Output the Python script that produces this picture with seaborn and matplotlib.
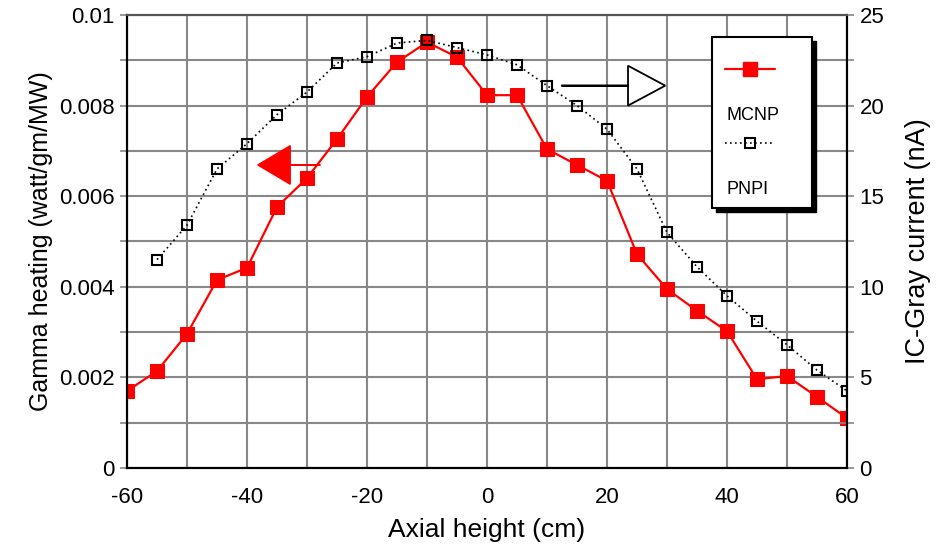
import numpy as np
import pandas as pd
import matplotlib
matplotlib.use("Agg")
import matplotlib.pyplot as plt
import seaborn as sns
from matplotlib.patches import Rectangle, FancyArrow
from matplotlib.lines import Line2D

# axial positions (cm)
height_mcnp = list(range(-60, 65, 5))
height_pnpi = list(range(-55, 65, 5))

# MCNP gamma heating (watt/gm/MW) - left axis
gamma_mcnp = [0.00170, 0.00214, 0.00296, 0.00415, 0.00442, 0.00576, 0.00640,
              0.00726, 0.00819, 0.00896, 0.00940, 0.00907, 0.00823, 0.00823,
              0.00704, 0.00669, 0.00634, 0.00472, 0.00395, 0.00347, 0.00302,
              0.00196, 0.00203, 0.00157, 0.00110]

# PNPI IC-Gray current (nA) - right axis
current_pnpi = [11.5, 13.4, 16.5, 17.9, 19.5, 20.75, 22.35, 22.7, 23.45, 23.6,
                23.2, 22.8, 22.25, 21.1, 20.0, 18.7, 16.5, 13.0, 11.1, 9.5,
                8.1, 6.8, 5.4, 4.25]

x_ticks = list(range(-60, 70, 10))
x_labels = ["-60", "", "-40", "", "-20", "", "0", "", "20", "", "40", "", "60"]
left_ticks = [i * 0.001 for i in range(11)]
left_labels = ["0", "", "0.002", "", "0.004", "", "0.006", "", "0.008", "", "0.01"]
right_ticks = [i * 2.5 for i in range(11)]
right_labels = ["0", "", "5", "", "10", "", "15", "", "20", "", "25"]

mcnp = pd.DataFrame({"height": height_mcnp, "gamma": gamma_mcnp})
pnpi = pd.DataFrame({"height": height_pnpi, "current": current_pnpi})

sns.set_style("white")
plt.rcParams["font.family"] = ["Liberation Sans", "DejaVu Sans"]
plt.rcParams["text.color"] = "black"
plt.rcParams["axes.labelcolor"] = "black"

fig = plt.figure(figsize=(9.38, 5.53), dpi=100)
ax = fig.add_axes([0.1354, 0.1537, 0.7676, 0.8192])
ax2 = ax.twinx()

grid_c = "#888888"
ax.set_axisbelow(True)
ax.grid(True, color=grid_c, linewidth=1.5)

sns.lineplot(data=mcnp, x="height", y="gamma", ax=ax, color="red",
             marker="s", markersize=9.5, markeredgecolor="red", linewidth=1.6)
sns.lineplot(data=pnpi, x="height", y="current", ax=ax2, color="black",
             linestyle=(0, (1, 2)), linewidth=1.2, marker="s", markersize=7,
             markerfacecolor="none", markeredgecolor="black", markeredgewidth=1.5)

ax.set_xlim(-60, 60)
ax.set_ylim(0, 0.01)
ax2.set_ylim(0, 25)
ax.set_xticks(x_ticks)
ax.set_xticklabels(x_labels)
ax.set_yticks(left_ticks)
ax.set_yticklabels(left_labels)
ax2.set_yticks(right_ticks)
ax2.set_yticklabels(right_labels)

for a in (ax, ax2):
    a.tick_params(axis="both", direction="inout", length=10, width=1.2,
                  color=grid_c, labelsize=16, labelcolor="black")
    a.tick_params(axis="y", pad=4)
    a.tick_params(axis="x", pad=9)
    for side in ("left", "right", "bottom"):
        a.spines[side].set_color("black")
        a.spines[side].set_linewidth(1.5)
    a.spines["top"].set_color("#555555")
    a.spines["top"].set_linewidth(1.5)

ax.set_xlabel("Axial height (cm)", fontsize=19, labelpad=7)
ax.set_ylabel("Gamma heating (watt/gm/MW)", fontsize=18, labelpad=4)
ax2.set_ylabel("IC-Gray current (nA)", fontsize=19.5, labelpad=15)

# direction arrows
ax.add_patch(FancyArrow(-27.8, 0.00669, -10.4, 0, width=0.00001,
                        head_width=0.00085, head_length=5.4, length_includes_head=True,
                        color="red", zorder=5))
ax2.add_patch(FancyArrow(12.5, 21.1, 17.2, 0, width=0.02,
                         head_width=2.2, head_length=6.2, length_includes_head=True,
                         facecolor="white", edgecolor="black", linewidth=1.3, zorder=5))

# legend box
t = ax2.transAxes
bx0, by0, bw, bh = 0.8125, 0.574, 0.1389, 0.377
ax2.add_patch(Rectangle((bx0 + 0.005, by0 - 0.008), bw, bh, transform=t,
                        facecolor="black", edgecolor="black", zorder=9, clip_on=False))
ax2.add_patch(Rectangle((bx0, by0), bw, bh, transform=t, facecolor="white",
                        edgecolor="black", linewidth=1.5, zorder=10, clip_on=False))
ax2.add_line(Line2D([0.831, 0.900], [0.881, 0.881], transform=t, color="red",
                    linewidth=1.6, zorder=11))
ax2.add_line(Line2D([0.8655], [0.881], transform=t, color="red", marker="s",
                    markersize=9.5, zorder=11))
ax2.text(0.832, 0.779, "MCNP", transform=t, fontsize=13, va="center", zorder=11)
ax2.add_line(Line2D([0.831, 0.900], [0.717, 0.717], transform=t, color="black",
                    linestyle=(0, (1, 2)), linewidth=1.2, zorder=11))
ax2.add_line(Line2D([0.8655], [0.717], transform=t, color="black", marker="s",
                    markersize=7, markerfacecolor="none", markeredgewidth=1.5, zorder=11))
ax2.text(0.832, 0.614, "PNPI", transform=t, fontsize=13, va="center", zorder=11)

fig.savefig("out.png", dpi=100)
